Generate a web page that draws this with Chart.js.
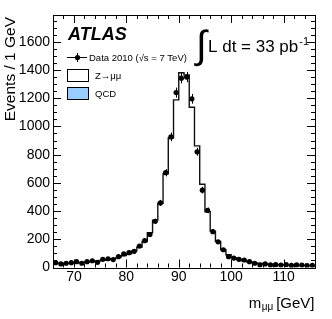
<!DOCTYPE html>
<html>
<head>
<meta charset="utf-8">
<script src="https://cdn.jsdelivr.net/npm/chart.js@4.4.0/dist/chart.umd.min.js"></script>
<style>
  html, body { margin: 0; padding: 0; background: #fff; }
  #wrap { width: 332px; height: 319px; }
</style>
</head>
<body>
<div id="wrap"><canvas id="zmumu" width="332" height="319"></canvas></div>
<script>
// m(mumu) binning: 1 GeV bins from 66 to 116 GeV (51 edges)
const massEdges = [66, 67, 68, 69, 70, 71, 72, 73, 74, 75, 76, 77, 78, 79, 80, 81, 82, 83, 84, 85,
  86, 87, 88, 89, 90, 91, 92, 93, 94, 95, 96, 97, 98, 99, 100, 101, 102, 103, 104, 105,
  106, 107, 108, 109, 110, 111, 112, 113, 114, 115, 116];

// Data 2010 events per bin
const dataCounts = [34, 25, 30, 34, 41, 30, 41, 48, 37, 58, 62, 56, 77, 96, 105, 115, 152, 190, 234, 328,
  458, 672, 926, 1240, 1342, 1350, 1196, 820, 548, 405, 254, 182, 126, 77, 67, 58, 53, 41, 30, 18,
  25, 18, 20, 17, 20, 15, 18, 17, 13, 15];

// Z->mumu simulation per bin
const zmumuCounts = [30, 29, 30, 32, 34, 36, 39, 42, 46, 51, 57, 63, 72, 84, 98, 118, 145, 184, 246, 336,
  455, 665, 918, 1188, 1381, 1365, 1136, 862, 590, 395, 258, 185, 126, 90, 70, 57, 47, 39, 33, 28,
  25, 22, 20, 19, 17, 16, 15, 14, 13, 13];

const xTickLabels = [70, 80, 90, 100, 110];
const yTickLabels = [0, 200, 400, 600, 800, 1000, 1200, 1400, 1600];

const FONT = '"Liberation Sans", Arial, Helvetica, sans-serif';

const dataPoints = dataCounts.map((n, i) => ({ x: (massEdges[i] + massEdges[i + 1]) / 2, y: n }));
const mcPoints = massEdges.map((e, i) => ({ x: e, y: zmumuCounts[Math.min(i, zmumuCounts.length - 1)] }));

// ROOT style frame with ticks pointing inwards on all four sides, plus the error bars
const atlasFrame = {
  id: 'atlasFrame',
  afterDatasetsDraw(chart) {
    const { ctx, scales: { x, y } } = chart;
    ctx.save();
    ctx.strokeStyle = '#000';
    ctx.lineWidth = 1;
    dataPoints.forEach(p => {
      const err = Math.sqrt(p.y);
      const px = Math.round(x.getPixelForValue(p.x)) + 0.5;
      ctx.beginPath();
      ctx.moveTo(px, y.getPixelForValue(p.y - err));
      ctx.lineTo(px, y.getPixelForValue(p.y + err));
      ctx.stroke();
    });
    ctx.restore();
  },
  afterDraw(chart) {
    const { ctx, chartArea: a, scales: { x, y } } = chart;
    ctx.save();
    ctx.strokeStyle = '#000';
    ctx.lineWidth = 1;
    ctx.strokeRect(Math.round(a.left) + 0.5, Math.round(a.top) + 0.5,
      Math.round(a.right - a.left), Math.round(a.bottom - a.top));

    ctx.beginPath();
    for (let m = 66; m <= 116; m += 2) {
      const len = m % 10 === 0 ? 8 : 4;
      const px = Math.round(x.getPixelForValue(m)) + 0.5;
      ctx.moveTo(px, a.bottom); ctx.lineTo(px, a.bottom - len);
      ctx.moveTo(px, a.top); ctx.lineTo(px, a.top + len);
    }
    for (let v = 0; v <= 1750; v += 50) {
      const len = v % 200 === 0 ? 8 : 4;
      const py = Math.round(y.getPixelForValue(v)) + 0.5;
      ctx.moveTo(a.left, py); ctx.lineTo(a.left + len, py);
      ctx.moveTo(a.right, py); ctx.lineTo(a.right - len, py);
    }
    ctx.stroke();

    ctx.fillStyle = '#000';
    ctx.textBaseline = 'alphabetic';
    ctx.textAlign = 'left';

    // ATLAS label
    ctx.font = 'italic bold 18px ' + FONT;
    ctx.fillText('ATLAS', 68, 40);

    // legend
    ctx.beginPath();
    ctx.moveTo(67, 57.5); ctx.lineTo(87, 57.5);
    ctx.moveTo(77.5, 53); ctx.lineTo(77.5, 62);
    ctx.stroke();
    ctx.beginPath();
    ctx.arc(77.5, 57.5, 2.6, 0, Math.PI * 2);
    ctx.fill();
    ctx.font = '9.5px ' + FONT;
    ctx.fillText('Data 2010 (\u221As = 7 TeV)', 89, 60.8);

    ctx.fillStyle = '#fff';
    ctx.fillRect(67.5, 69.5, 21, 12);
    ctx.strokeRect(67.5, 69.5, 21, 12);
    ctx.fillStyle = '#99ccff';
    ctx.fillRect(67.5, 87.5, 21, 12);
    ctx.strokeRect(67.5, 87.5, 21, 12);
    ctx.fillStyle = '#000';
    ctx.fillText('Z\u2192\u03BC\u03BC', 95, 78.8);
    ctx.fillText('QCD', 95, 97);

    // luminosity
    ctx.font = '39px ' + FONT;
    ctx.fillText('\u222B', 196, 58);
    ctx.font = '17px ' + FONT;
    ctx.fillText('L dt = 33 pb', 208, 52);
    const lw = ctx.measureText('L dt = 33 pb').width;
    ctx.font = '11px ' + FONT;
    ctx.fillText('-1', 208 + lw + 1, 45);

    // y axis title
    ctx.save();
    ctx.translate(15, 17);
    ctx.rotate(-Math.PI / 2);
    ctx.textAlign = 'right';
    ctx.font = '15.5px ' + FONT;
    ctx.fillText('Events / 1 GeV', 0, 0);
    ctx.restore();

    // x axis title m_mumu [GeV]
    ctx.textAlign = 'right';
    ctx.font = '15px ' + FONT;
    ctx.fillText('[GeV]', 314.5, 307.5);
    let xr = 314.5 - ctx.measureText('[GeV]').width - 3;
    ctx.font = '10px ' + FONT;
    ctx.fillText('\u03BC\u03BC', xr, 309.5);
    xr -= ctx.measureText('\u03BC\u03BC').width + 0.5;
    ctx.font = '15px ' + FONT;
    ctx.fillText('m', xr, 307.5);
    ctx.restore();
  }
};

new Chart(document.getElementById('zmumu').getContext('2d'), {
  type: 'scatter',
  data: {
    datasets: [
      {
        label: 'Data 2010 (\u221As = 7 TeV)',
        data: dataPoints,
        pointRadius: 2.6,
        pointBorderWidth: 0,
        pointBackgroundColor: '#000',
        borderColor: '#000'
      },
      {
        label: 'Z\u2192\u03BC\u03BC',
        data: mcPoints,
        showLine: true,
        stepped: 'before',
        pointRadius: 0,
        borderColor: '#111',
        borderWidth: 1.4,
        fill: false
      }
    ]
  },
  options: {
    responsive: false,
    animation: false,
    devicePixelRatio: 1,
    layout: { padding: { top: 15, right: 17, bottom: 0, left: 0 } },
    plugins: {
      legend: { display: false },
      tooltip: { enabled: false }
    },
    scales: {
      x: {
        type: 'linear',
        min: 66,
        max: 116,
        grid: { display: false, drawTicks: false },
        border: { display: false },
        ticks: { color: '#000', font: { family: FONT, size: 14 }, padding: 1, maxRotation: 0, autoSkip: false,
          callback: (v) => String(v) },
        afterBuildTicks: (scale) => { scale.ticks = xTickLabels.map(v => ({ value: v })); },
        afterFit: (scale) => { scale.height = 51.5; }
      },
      y: {
        type: 'linear',
        min: 0,
        max: 1790,
        grid: { display: false, drawTicks: false },
        border: { display: false },
        ticks: { color: '#000', font: { family: FONT, size: 14 }, padding: 3, autoSkip: false,
          callback: (v) => String(v) },
        afterBuildTicks: (scale) => { scale.ticks = yTickLabels.map(v => ({ value: v })); },
        afterFit: (scale) => { scale.width = 53; }
      }
    }
  },
  plugins: [atlasFrame]
});
</script>
</body>
</html>
